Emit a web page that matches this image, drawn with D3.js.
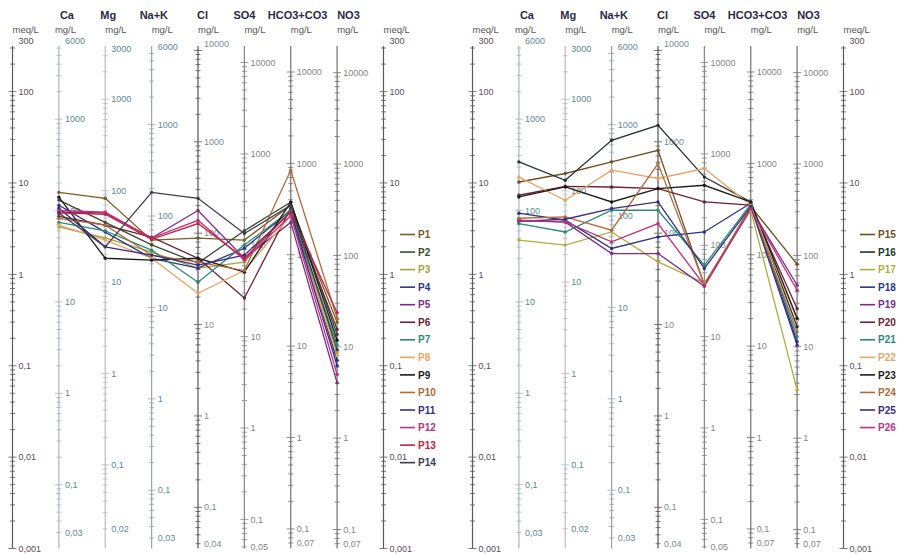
<!DOCTYPE html>
<html><head><meta charset="utf-8">
<script src="https://cdn.jsdelivr.net/npm/d3@7"></script>
<style>body{margin:0;background:#fff;} svg{display:block;font-family:"Liberation Sans",Arial,sans-serif;}</style>
</head><body><svg id="c" width="899" height="554"></svg>
<script>
// ---- data ----
const ions = ["Ca","Mg","Na+K","Cl","SO4","HCO3+CO3","NO3"];
const eqWeights = [20.04, 12.15, 23.0, 35.45, 48.03, 61.02, 62.0];
const mgTopLabels = [6000, 3000, 6000, 10000, 10000, 10000, 10000];
const mgBottomLabels = [0.03, 0.02, 0.03, 0.04, 0.05, 0.07, 0.07];
const meqLabels = [300, 100, 10, 1, 0.1, 0.01, 0.001];
const meqRange = [0.001, 300];

// values in meq/L, order = ions
const namesA = ["P1","P2","P3","P4","P5","P6","P7","P8","P9","P10","P11","P12","P13","P14"];
const valuesA = [
  [7.9, 6.8, 2.37, 2.49, 2.37, 5.7, 0.30],
  [6.5, 3.7, 2.1, 1.33, 3.0, 6.15, 0.22],
  [3.3, 2.5, 1.75, 1.17, 1.36, 5.3, 0.14],
  [5.7, 2.9, 1.5, 1.17, 1.93, 5.0, 0.115],
  [4.8, 4.7, 2.5, 5.0, 1.5, 3.7, 0.065],
  [4.3, 3.45, 2.55, 1.5, 0.55, 5.3, 0.25],
  [3.7, 3.0, 1.84, 0.82, 2.1, 5.0, 0.17],
  [3.45, 2.37, 1.5, 0.62, 1.1, 4.4, 0.13],
  [7.0, 1.5, 1.43, 1.5, 1.06, 6.15, 0.19],
  [4.1, 3.45, 1.62, 1.36, 1.1, 13.8, 0.33],
  [5.3, 2.0, 1.62, 1.26, 1.62, 4.8, 0.10],
  [5.0, 4.8, 2.5, 3.9, 1.43, 4.4, 0.08],
  [4.7, 4.55, 2.42, 3.6, 1.5, 4.8, 0.38],
  [4.7, 2.0, 7.9, 6.8, 2.8, 5.7, 0.15]
];
const namesB = ["P15","P16","P17","P18","P19","P20","P21","P22","P23","P24","P25","P26"];
const valuesB = [
  [10.25, 12.7, 17.0, 22.8, 0.76, 5.56, 1.29],
  [17.0, 10.7, 29.3, 42.7, 11.6, 6.2, 0.267],
  [2.37, 2.09, 2.91, 1.37, 0.80, 5.03, 0.054],
  [4.67, 3.91, 1.92, 2.57, 2.91, 6.0, 0.183],
  [3.91, 3.72, 1.69, 1.69, 0.74, 5.29, 0.76],
  [7.34, 9.2, 9.04, 8.69, 6.2, 5.71, 0.42],
  [3.6, 2.91, 5.03, 5.03, 1.26, 5.85, 0.207],
  [11.6, 6.47, 13.8, 11.2, 14.4, 5.71, 0.316],
  [7.03, 9.04, 6.2, 8.69, 9.44, 6.2, 0.33],
  [4.11, 4.25, 3.04, 16.3, 0.78, 5.43, 0.235],
  [3.81, 4.01, 5.25, 6.2, 1.16, 5.56, 0.168],
  [3.86, 3.75, 2.27, 3.6, 0.76, 5.16, 0.67]
];
const colorsA = ["#7d5a22","#3c4a2c","#a6a33c","#2c3488","#7e2c86","#6a2238","#2a8a78","#e8a464","#1c1c1c","#b06a3c","#3a2c80","#c0307e","#c0243e","#3c3c52"];
const colorsB = ["#6e5224","#23352a","#b0ad3e","#2c3488","#7e2c86","#6a2238","#2a8a78","#e8a464","#1c1c1c","#b06a3c","#3a2c80","#c0307e"];

// ---- drawing ----
const svg = d3.select("#c");
const y = d3.scaleLog().domain(meqRange).range([548.5, 48]);
const fmt = v => String(+v.toPrecision(6)).replace(".", ",");
const axisColors = ["#a7b5c0","#b7bcc0","#9aa2a8","#555","#858585","#707070","#707070"];
const mgLabelColors = ["#5a8a94","#5a8a94","#64889a","#7b8b92","#858585","#858585","#858585"];

function ticksBetween(lo, hi) {
  const out = [];
  for (let d = Math.floor(Math.log10(lo)) - 1; d <= Math.ceil(Math.log10(hi)); d++) {
    for (let m = 1; m <= 9; m++) {
      const v = +(m * Math.pow(10, d)).toPrecision(6);
      if (v >= lo * 0.999 && v <= hi * 1.001) out.push({v, major: m === 1});
    }
  }
  return out;
}

function drawPanel(x0, names, values, colors) {
  const keys = ["meqL", ...ions, "meqR"];
  const x = d3.scalePoint().domain(keys).range([x0 + 12.5, x0 + 383.5]);
  const g = svg.append("g");

  // meq axes
  ["meqL","meqR"].forEach(k => {
    const ax = g.append("g").attr("transform", `translate(${x(k)},0)`);
    ax.append("line").attr("y1", y(meqRange[1]) - 2).attr("y2", y(meqRange[0])).attr("stroke", "#5a5a5a").attr("stroke-width", 1.2);
    ticksBetween(meqRange[0], meqRange[1]).forEach(t => {
      const h = t.major ? 4 : 2.5;
      ax.append("line").attr("x1", -h).attr("x2", h).attr("y1", y(t.v)).attr("y2", y(t.v)).attr("stroke", "#5a5a5a").attr("stroke-width", 0.8);
    });
    meqLabels.forEach(v => {
      let yy = y(v);
      if (v === meqRange[1]) yy -= 7;
      ax.append("text").attr("x", 6).attr("y", yy).attr("dy", "0.35em").attr("font-size", 9)
        .attr("fill", "#5d4a5d").text(fmt(v));
    });
    svg.append("text").attr("x", x(k)).attr("y", 33).attr("font-size", 9.5).attr("fill", "#555").text("meq/L");
  });

  // ion axes (mg/L)
  ions.forEach((ion, i) => {
    const ew = eqWeights[i];
    const ym = v => y(v / ew);
    const ax = g.append("g").attr("transform", `translate(${x(ion)},0)`);
    ax.append("line").attr("y1", y(meqRange[1]) - 2).attr("y2", y(meqRange[0])).attr("stroke", axisColors[i]).attr("stroke-width", 1.2);
    const lo = mgBottomLabels[i], hi = mgTopLabels[i];
    ticksBetween(lo, hi).forEach(t => {
      const h = t.major ? 4 : 2.5;
      ax.append("line").attr("x1", -h).attr("x2", h).attr("y1", ym(t.v)).attr("y2", ym(t.v)).attr("stroke", axisColors[i]).attr("stroke-width", 0.8);
    });
    const labs = [hi];
    for (let d = Math.floor(Math.log10(hi)); Math.pow(10, d) >= lo; d--) {
      const v = +Math.pow(10, d).toPrecision(6);
      if (v < hi && v > lo) labs.push(v);
    }
    labs.push(lo);
    labs.forEach(v => {
      let yy = ym(v);
      if (v === hi && yy < 60) yy -= 7;
      ax.append("text").attr("x", 6).attr("y", yy).attr("dy", "0.35em").attr("font-size", 9)
        .attr("fill", mgLabelColors[i]).text(fmt(v));
    });
    svg.append("text").attr("x", x(ion) - (i === 0 ? 4 : 0)).attr("y", 33).attr("font-size", 9.5).attr("fill", "#555").text("mg/L");
  });

  // headers
  const headerDx = [1, -5, -12, -1, -11, -23, 0];
  ions.forEach((ion, i) => {
    svg.append("text").attr("x", x(ion) + headerDx[i]).attr("y", 19).attr("font-size", 11).attr("font-weight", "bold")
      .attr("fill", "#2a2a48").text(ion);
  });

  // lines
  const line = d3.line().x((d, j) => x(ions[j])).y(d => y(d));
  values.forEach((vals, s) => {
    g.append("path").attr("d", line(vals)).attr("fill", "none").attr("stroke", colors[s]).attr("stroke-width", 1.3);
  });
  values.forEach((vals, s) => {
    vals.forEach((v, j) => {
      g.append("circle").attr("cx", x(ions[j])).attr("cy", y(v)).attr("r", 1.7).attr("fill", colors[s]);
    });
  });

  // legend
  const lg = svg.append("g");
  names.forEach((n, s) => {
    const yy = 234.5 + s * 17.55;
    lg.append("line").attr("x1", x0 + 400).attr("x2", x0 + 415).attr("y1", yy).attr("y2", yy).attr("stroke", colors[s]).attr("stroke-width", 1.6);
    lg.append("text").attr("x", x0 + 418).attr("y", yy).attr("dy", "0.36em").attr("font-size", 10).attr("font-weight", "bold")
      .attr("fill", colors[s]).text(n);
  });
}

drawPanel(0, namesA, valuesA, colorsA);
drawPanel(460, namesB, valuesB, colorsB);
</script></body></html>
